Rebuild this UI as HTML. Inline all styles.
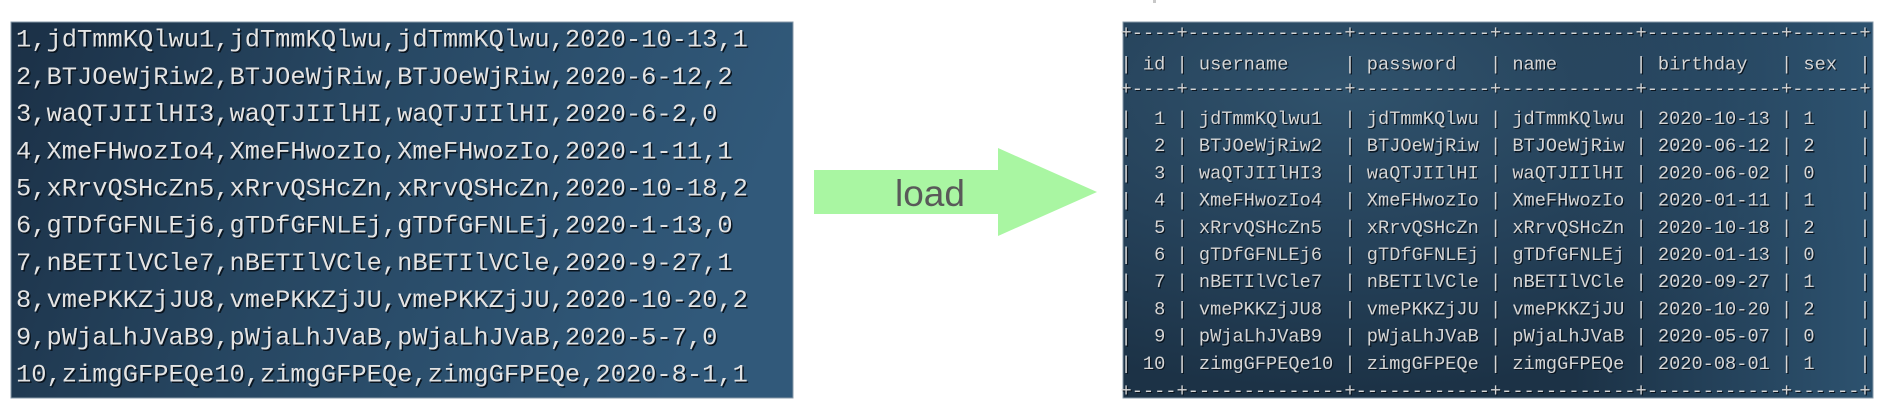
<!DOCTYPE html>
<html>
<head>
<meta charset="utf-8">
<style>
  html, body { margin:0; padding:0; background:#ffffff; }
  body { width:1892px; height:410px; overflow:hidden; position:relative; }
  svg { position:absolute; left:0; top:0; }
  .mono { font-family:"Liberation Mono", "DejaVu Sans Mono", monospace; white-space:pre; }
</style>
</head>
<body>
<svg width="1892" height="410" viewBox="0 0 1892 410" xmlns="http://www.w3.org/2000/svg">
  <defs>
    <linearGradient id="gl" x1="0" y1="0" x2="1" y2="0.2">
      <stop offset="0" stop-color="#1b3046"/>
      <stop offset="0.45" stop-color="#274762"/>
      <stop offset="1" stop-color="#31597a"/>
    </linearGradient>
    <radialGradient id="gr" cx="0.3" cy="0.18" r="0.8">
      <stop offset="0" stop-color="#30526c"/>
      <stop offset="0.55" stop-color="#254159"/>
      <stop offset="1" stop-color="#1c3246"/>
    </radialGradient>
    <linearGradient id="gr2" x1="0" y1="0" x2="1" y2="0">
      <stop offset="0" stop-color="#2e5472" stop-opacity="0"/>
      <stop offset="0.6" stop-color="#2e5472" stop-opacity="0"/>
      <stop offset="1" stop-color="#2f5674" stop-opacity="0.9"/>
    </linearGradient>
  </defs>

  <!-- tiny mark at top -->
  <rect x="1153" y="0" width="3" height="3" fill="#c8c8c8"/>

  <!-- Left panel -->
  <rect x="11" y="22" width="782" height="376" fill="url(#gl)" stroke="#8799a8" stroke-width="1"/>
  <g class="mono" font-size="25.42">
    <g fill="#0a1520" transform="translate(1.5,1.5)">
      <text x="16" y="46.7">1,jdTmmKQlwu1,jdTmmKQlwu,jdTmmKQlwu,2020-10-13,1</text>
      <text x="16" y="83.9">2,BTJOeWjRiw2,BTJOeWjRiw,BTJOeWjRiw,2020-6-12,2</text>
      <text x="16" y="121.1">3,waQTJIIlHI3,waQTJIIlHI,waQTJIIlHI,2020-6-2,0</text>
      <text x="16" y="158.3">4,XmeFHwozIo4,XmeFHwozIo,XmeFHwozIo,2020-1-11,1</text>
      <text x="16" y="195.5">5,xRrvQSHcZn5,xRrvQSHcZn,xRrvQSHcZn,2020-10-18,2</text>
      <text x="16" y="232.7">6,gTDfGFNLEj6,gTDfGFNLEj,gTDfGFNLEj,2020-1-13,0</text>
      <text x="16" y="269.9">7,nBETIlVCle7,nBETIlVCle,nBETIlVCle,2020-9-27,1</text>
      <text x="16" y="307.1">8,vmePKKZjJU8,vmePKKZjJU,vmePKKZjJU,2020-10-20,2</text>
      <text x="16" y="344.3">9,pWjaLhJVaB9,pWjaLhJVaB,pWjaLhJVaB,2020-5-7,0</text>
      <text x="16" y="381.5">10,zimgGFPEQe10,zimgGFPEQe,zimgGFPEQe,2020-8-1,1</text>
    </g>
    <g fill="#e4e4e4">
      <text x="16" y="46.7">1,jdTmmKQlwu1,jdTmmKQlwu,jdTmmKQlwu,2020-10-13,1</text>
      <text x="16" y="83.9">2,BTJOeWjRiw2,BTJOeWjRiw,BTJOeWjRiw,2020-6-12,2</text>
      <text x="16" y="121.1">3,waQTJIIlHI3,waQTJIIlHI,waQTJIIlHI,2020-6-2,0</text>
      <text x="16" y="158.3">4,XmeFHwozIo4,XmeFHwozIo,XmeFHwozIo,2020-1-11,1</text>
      <text x="16" y="195.5">5,xRrvQSHcZn5,xRrvQSHcZn,xRrvQSHcZn,2020-10-18,2</text>
      <text x="16" y="232.7">6,gTDfGFNLEj6,gTDfGFNLEj,gTDfGFNLEj,2020-1-13,0</text>
      <text x="16" y="269.9">7,nBETIlVCle7,nBETIlVCle,nBETIlVCle,2020-9-27,1</text>
      <text x="16" y="307.1">8,vmePKKZjJU8,vmePKKZjJU,vmePKKZjJU,2020-10-20,2</text>
      <text x="16" y="344.3">9,pWjaLhJVaB9,pWjaLhJVaB,pWjaLhJVaB,2020-5-7,0</text>
      <text x="16" y="381.5">10,zimgGFPEQe10,zimgGFPEQe,zimgGFPEQe,2020-8-1,1</text>
    </g>
  </g>

  <!-- Arrow -->
  <polygon points="814,170 998,170 998,148 1097,192 998,236 998,214 814,214" fill="#a9f6a2"/>
  <text x="895" y="206" font-family="Liberation Sans, DejaVu Sans, sans-serif" font-size="37" fill="#595959">load</text>

  <!-- Right panel -->
  <rect x="1123" y="22" width="750" height="376" fill="url(#gr)"/>
  <rect x="1123" y="22" width="750" height="376" fill="url(#gr2)" stroke="#8799a8" stroke-width="1"/>
  <g class="mono" font-size="18.67">
    <g fill="#0a1520" transform="translate(1.2,1.2)">
      <text x="1120.5" y="38">+----+--------------+------------+------------+------------+------+</text>
      <text x="1120.5" y="69.3">|&#160;id&#160;|&#160;username&#160;&#160;&#160;&#160;&#160;|&#160;password&#160;&#160;&#160;|&#160;name&#160;&#160;&#160;&#160;&#160;&#160;&#160;|&#160;birthday&#160;&#160;&#160;|&#160;sex&#160;&#160;|</text>
      <text x="1120.5" y="94">+----+--------------+------------+------------+------------+------+</text>
      <text x="1120.5" y="124">|&#160;&#160;1&#160;|&#160;jdTmmKQlwu1&#160;&#160;|&#160;jdTmmKQlwu&#160;|&#160;jdTmmKQlwu&#160;|&#160;2020-10-13&#160;|&#160;1&#160;&#160;&#160;&#160;|</text>
      <text x="1120.5" y="151.2">|&#160;&#160;2&#160;|&#160;BTJOeWjRiw2&#160;&#160;|&#160;BTJOeWjRiw&#160;|&#160;BTJOeWjRiw&#160;|&#160;2020-06-12&#160;|&#160;2&#160;&#160;&#160;&#160;|</text>
      <text x="1120.5" y="178.4">|&#160;&#160;3&#160;|&#160;waQTJIIlHI3&#160;&#160;|&#160;waQTJIIlHI&#160;|&#160;waQTJIIlHI&#160;|&#160;2020-06-02&#160;|&#160;0&#160;&#160;&#160;&#160;|</text>
      <text x="1120.5" y="205.6">|&#160;&#160;4&#160;|&#160;XmeFHwozIo4&#160;&#160;|&#160;XmeFHwozIo&#160;|&#160;XmeFHwozIo&#160;|&#160;2020-01-11&#160;|&#160;1&#160;&#160;&#160;&#160;|</text>
      <text x="1120.5" y="232.8">|&#160;&#160;5&#160;|&#160;xRrvQSHcZn5&#160;&#160;|&#160;xRrvQSHcZn&#160;|&#160;xRrvQSHcZn&#160;|&#160;2020-10-18&#160;|&#160;2&#160;&#160;&#160;&#160;|</text>
      <text x="1120.5" y="260">|&#160;&#160;6&#160;|&#160;gTDfGFNLEj6&#160;&#160;|&#160;gTDfGFNLEj&#160;|&#160;gTDfGFNLEj&#160;|&#160;2020-01-13&#160;|&#160;0&#160;&#160;&#160;&#160;|</text>
      <text x="1120.5" y="287.2">|&#160;&#160;7&#160;|&#160;nBETIlVCle7&#160;&#160;|&#160;nBETIlVCle&#160;|&#160;nBETIlVCle&#160;|&#160;2020-09-27&#160;|&#160;1&#160;&#160;&#160;&#160;|</text>
      <text x="1120.5" y="314.4">|&#160;&#160;8&#160;|&#160;vmePKKZjJU8&#160;&#160;|&#160;vmePKKZjJU&#160;|&#160;vmePKKZjJU&#160;|&#160;2020-10-20&#160;|&#160;2&#160;&#160;&#160;&#160;|</text>
      <text x="1120.5" y="341.6">|&#160;&#160;9&#160;|&#160;pWjaLhJVaB9&#160;&#160;|&#160;pWjaLhJVaB&#160;|&#160;pWjaLhJVaB&#160;|&#160;2020-05-07&#160;|&#160;0&#160;&#160;&#160;&#160;|</text>
      <text x="1120.5" y="368.8">|&#160;10&#160;|&#160;zimgGFPEQe10&#160;|&#160;zimgGFPEQe&#160;|&#160;zimgGFPEQe&#160;|&#160;2020-08-01&#160;|&#160;1&#160;&#160;&#160;&#160;|</text>
      <text x="1120.5" y="396">+----+--------------+------------+------------+------------+------+</text>
    </g>
    <g fill="#d6d6d6">
      <text x="1120.5" y="38">+----+--------------+------------+------------+------------+------+</text>
      <text x="1120.5" y="69.3">|&#160;id&#160;|&#160;username&#160;&#160;&#160;&#160;&#160;|&#160;password&#160;&#160;&#160;|&#160;name&#160;&#160;&#160;&#160;&#160;&#160;&#160;|&#160;birthday&#160;&#160;&#160;|&#160;sex&#160;&#160;|</text>
      <text x="1120.5" y="94">+----+--------------+------------+------------+------------+------+</text>
      <text x="1120.5" y="124">|&#160;&#160;1&#160;|&#160;jdTmmKQlwu1&#160;&#160;|&#160;jdTmmKQlwu&#160;|&#160;jdTmmKQlwu&#160;|&#160;2020-10-13&#160;|&#160;1&#160;&#160;&#160;&#160;|</text>
      <text x="1120.5" y="151.2">|&#160;&#160;2&#160;|&#160;BTJOeWjRiw2&#160;&#160;|&#160;BTJOeWjRiw&#160;|&#160;BTJOeWjRiw&#160;|&#160;2020-06-12&#160;|&#160;2&#160;&#160;&#160;&#160;|</text>
      <text x="1120.5" y="178.4">|&#160;&#160;3&#160;|&#160;waQTJIIlHI3&#160;&#160;|&#160;waQTJIIlHI&#160;|&#160;waQTJIIlHI&#160;|&#160;2020-06-02&#160;|&#160;0&#160;&#160;&#160;&#160;|</text>
      <text x="1120.5" y="205.6">|&#160;&#160;4&#160;|&#160;XmeFHwozIo4&#160;&#160;|&#160;XmeFHwozIo&#160;|&#160;XmeFHwozIo&#160;|&#160;2020-01-11&#160;|&#160;1&#160;&#160;&#160;&#160;|</text>
      <text x="1120.5" y="232.8">|&#160;&#160;5&#160;|&#160;xRrvQSHcZn5&#160;&#160;|&#160;xRrvQSHcZn&#160;|&#160;xRrvQSHcZn&#160;|&#160;2020-10-18&#160;|&#160;2&#160;&#160;&#160;&#160;|</text>
      <text x="1120.5" y="260">|&#160;&#160;6&#160;|&#160;gTDfGFNLEj6&#160;&#160;|&#160;gTDfGFNLEj&#160;|&#160;gTDfGFNLEj&#160;|&#160;2020-01-13&#160;|&#160;0&#160;&#160;&#160;&#160;|</text>
      <text x="1120.5" y="287.2">|&#160;&#160;7&#160;|&#160;nBETIlVCle7&#160;&#160;|&#160;nBETIlVCle&#160;|&#160;nBETIlVCle&#160;|&#160;2020-09-27&#160;|&#160;1&#160;&#160;&#160;&#160;|</text>
      <text x="1120.5" y="314.4">|&#160;&#160;8&#160;|&#160;vmePKKZjJU8&#160;&#160;|&#160;vmePKKZjJU&#160;|&#160;vmePKKZjJU&#160;|&#160;2020-10-20&#160;|&#160;2&#160;&#160;&#160;&#160;|</text>
      <text x="1120.5" y="341.6">|&#160;&#160;9&#160;|&#160;pWjaLhJVaB9&#160;&#160;|&#160;pWjaLhJVaB&#160;|&#160;pWjaLhJVaB&#160;|&#160;2020-05-07&#160;|&#160;0&#160;&#160;&#160;&#160;|</text>
      <text x="1120.5" y="368.8">|&#160;10&#160;|&#160;zimgGFPEQe10&#160;|&#160;zimgGFPEQe&#160;|&#160;zimgGFPEQe&#160;|&#160;2020-08-01&#160;|&#160;1&#160;&#160;&#160;&#160;|</text>
      <text x="1120.5" y="396">+----+--------------+------------+------------+------------+------+</text>
    </g>
  </g>
</svg>
</body>
</html>
